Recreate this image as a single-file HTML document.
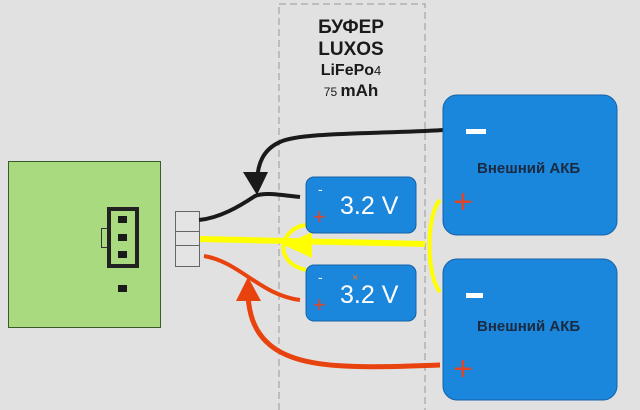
<!DOCTYPE html>
<html><head><meta charset="utf-8"><style>
body{margin:0;background:#e1e1e1;}
svg{display:block}
</style></head><body>
<svg width="640" height="410" viewBox="0 0 640 410" xmlns="http://www.w3.org/2000/svg" font-family="Liberation Sans, sans-serif">
<rect width="640" height="410" fill="#e1e1e1"/>
<rect x="279" y="4" width="146" height="420" fill="none" stroke="#999" stroke-dasharray="7,4" stroke-width="1"/>
<g font-weight="bold" fill="#1a1a1a" text-anchor="middle">
<text x="351" y="33" font-size="19">БУФЕР</text>
<text x="351" y="55" font-size="19">LUXOS</text>
<text x="351" y="75" font-size="16">LiFePo<tspan font-size="13" font-weight="normal">4</tspan></text>
<text x="351" y="96" font-size="17"><tspan font-size="12" font-weight="normal">75 </tspan>mAh</text>
</g>
<rect x="8.5" y="161.5" width="152" height="166" fill="#a9da7f" stroke="#3d5a2a"/>
<rect x="101.5" y="228.5" width="6" height="19" fill="none" stroke="#333"/>
<rect x="109" y="209" width="28" height="57" fill="none" stroke="#222" stroke-width="4"/>
<rect x="118" y="216" width="9" height="7" fill="#1a1a1a"/>
<rect x="118" y="234" width="9" height="7" fill="#1a1a1a"/>
<rect x="118" y="251" width="9" height="7" fill="#1a1a1a"/>
<rect x="118" y="285" width="9" height="7" fill="#1a1a1a"/>
<rect x="175.5" y="211.5" width="24" height="55" fill="#e4e4e4" stroke="#666"/>
<line x1="175" y1="231.5" x2="200" y2="231.5" stroke="#666"/>
<line x1="175" y1="245.5" x2="200" y2="245.5" stroke="#666"/>
<path d="M443,130 C380,134 300,132 280,142 C262,150 258,165 257,180" fill="none" stroke="#1a1a1a" stroke-width="4"/>
<polygon points="243,172 268,172 257,195" fill="#1a1a1a"/>
<path d="M300,197 C280,195 265,192 255,196 C240,206 220,218 199,220" fill="none" stroke="#1a1a1a" stroke-width="4"/>
<path d="M200,239 L425,244" stroke="#ffff00" stroke-width="6" fill="none"/>
<polygon points="284,245 312,232 312,258" fill="#ffff00"/>
<path d="M306,225 C280,228 272,262 306,270" fill="none" stroke="#ffff00" stroke-width="4"/>
<path d="M440,200 C426,215 426,275 440,292" fill="none" stroke="#ffff00" stroke-width="4"/>
<path d="M204,256 C240,262 260,295 300,300" fill="none" stroke="#e8420e" stroke-width="4"/>
<path d="M440,365 C360,368 300,370 270,345 C252,330 249,310 248,296" fill="none" stroke="#e8420e" stroke-width="5"/>
<polygon points="236,301 261,301 248,277" fill="#e8420e"/>
<rect x="306" y="177" width="110" height="56" rx="8" fill="#1a86dc" stroke="#1663a8"/>
<text x="318" y="194" fill="#fff" font-size="14">-</text>
<text x="313" y="224" fill="#e0462a" font-size="22">+</text>
<text x="340" y="214" fill="#fff" font-size="25">3.2 V</text>
<rect x="306" y="265" width="110" height="56" rx="8" fill="#1a86dc" stroke="#1663a8"/>
<text x="318" y="282" fill="#fff" font-size="14">-</text>
<text x="313" y="312" fill="#e0462a" font-size="22">+</text>
<text x="352" y="281" fill="#f07020" font-size="11">×</text>
<text x="340" y="303" fill="#fff" font-size="25">3.2 V</text>
<rect x="443" y="95" width="174" height="140" rx="14" fill="#1a86dc" stroke="#1663a8"/>
<rect x="466" y="129" width="20" height="5" fill="#fff"/>
<text x="477" y="173" fill="#1a2a40" font-size="15" font-weight="bold">Внешний АКБ</text>
<text x="453" y="213" fill="#e0462a" font-size="34">+</text>
<rect x="443" y="259" width="174" height="141" rx="14" fill="#1a86dc" stroke="#1663a8"/>
<rect x="466" y="293" width="17" height="5" fill="#fff"/>
<text x="477" y="331" fill="#1a2a40" font-size="15" font-weight="bold">Внешний АКБ</text>
<text x="453" y="380" fill="#e0462a" font-size="34">+</text>
</svg>
</body></html>
